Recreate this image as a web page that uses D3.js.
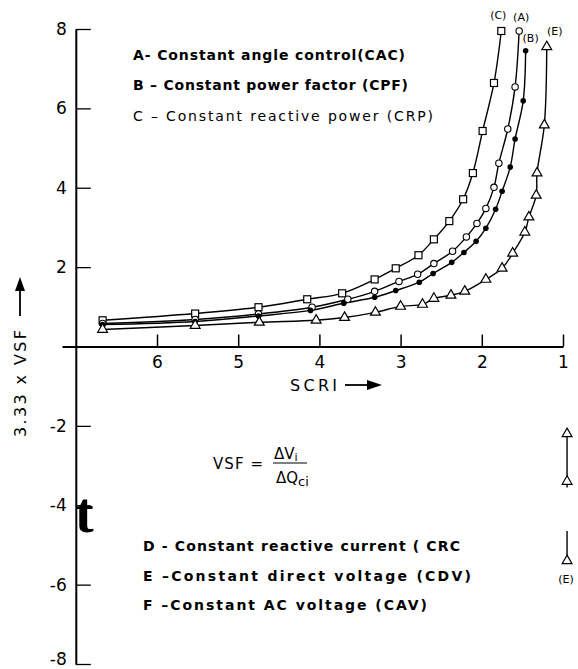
<!DOCTYPE html>
<html><head><meta charset="utf-8">
<script src="https://cdn.jsdelivr.net/npm/d3@7/dist/d3.min.js"></script>
<style>
html,body{margin:0;padding:0;background:#fff;}
svg{display:block;}
</style></head>
<body>
<script>
// ---- data ----
const xTicks = [6, 5, 4, 3, 2, 1];
const yTicks = [8, 6, 4, 2, -2, -4, -6, -8];

const scriC = [6.67, 5.53, 4.75, 4.15, 3.72, 3.32, 3.06, 2.78, 2.59, 2.40, 2.23, 2.11, 1.99, 1.85, 1.76];
const vsfC  = [0.66, 0.83, 0.99, 1.19, 1.34, 1.69, 1.97, 2.30, 2.70, 3.16, 3.71, 4.37, 5.43, 6.64, 7.95];

const scriA = [6.67, 5.53, 4.75, 4.09, 3.65, 3.32, 3.02, 2.79, 2.59, 2.36, 2.19, 2.06, 1.95, 1.85, 1.79, 1.68, 1.59, 1.54];
const vsfA  = [0.58, 0.68, 0.82, 0.99, 1.19, 1.39, 1.64, 1.82, 2.09, 2.40, 2.76, 3.10, 3.48, 4.01, 4.62, 5.48, 6.54, 7.95];

const scriB = [6.67, 5.53, 4.75, 4.11, 3.70, 3.32, 3.06, 2.77, 2.60, 2.37, 2.22, 2.07, 1.95, 1.83, 1.75, 1.65, 1.59, 1.49, 1.46];
const vsfB  = [0.55, 0.63, 0.77, 0.91, 1.09, 1.24, 1.41, 1.62, 1.84, 2.12, 2.37, 2.65, 2.98, 3.46, 3.91, 4.52, 5.23, 6.19, 7.45];

const scriE = [6.67, 5.53, 4.74, 4.04, 3.69, 3.31, 3.00, 2.73, 2.59, 2.38, 2.21, 1.95, 1.75, 1.62, 1.47, 1.42, 1.33, 1.32, 1.23, 1.20];
const vsfE  = [0.43, 0.53, 0.61, 0.66, 0.73, 0.86, 1.01, 1.06, 1.21, 1.29, 1.39, 1.69, 1.97, 2.35, 2.88, 3.26, 3.81, 4.37, 5.58, 7.55];

// negative branch of curve E near SCRI = 1
const scriEneg1 = [0.95, 0.95];
const vsfEneg1  = [-2.2, -3.55];
const scriEneg2 = [0.95, 0.95];
const vsfEneg2  = [-4.65, -5.4];
const markEneg  = [-2.2, -3.4, -5.4];

const legendTop = ["A-  Constant angle control(CAC)", "B \u2013 Constant power factor (CPF)", "C \u2013 Constant reactive power (CRP)"];
const legendBottom = ["D - Constant reactive current ( CRC", "E \u2013Constant direct voltage (CDV)", "F \u2013Constant AC voltage (CAV)"];

// ---- chart ----
const W = 578, H = 669;
const svg = d3.select("body").append("svg").attr("width", W).attr("height", H);
const font = "'DejaVu Sans', 'Liberation Sans', Arial, sans-serif";

const x = d3.scaleLinear().domain([7.17, 1]).range([62, 563]);
const y = d3.scaleLinear().domain([-8, 8]).range([664, 29]);

// x axis (ticks point up, labels below)
const gx = svg.append("g").attr("transform", `translate(0,${y(0)})`)
  .call(d3.axisBottom(x).tickValues(xTicks).tickFormat(d3.format("d"))
        .tickSizeInner(-12).tickSizeOuter(0).tickPadding(9));
gx.select(".domain").attr("stroke-width", 1.8);
gx.selectAll(".tick line").attr("stroke-width", 1.5);
gx.selectAll("text").attr("font-family", font).attr("font-size", 17).attr("fill", "#000");

// y axis (ticks point right, labels left)
const gy = svg.append("g").attr("transform", `translate(${x(7)},0)`)
  .call(d3.axisLeft(y).tickValues(yTicks).tickFormat(d => d < 0 ? "-" + Math.abs(d) : d)
        .tickSizeInner(-15).tickSizeOuter(0).tickPadding(9));
gy.select(".domain").attr("stroke-width", 2);
gy.selectAll(".tick line").attr("stroke-width", 1.3);
gy.selectAll("text").attr("font-family", font).attr("font-size", 17).attr("fill", "#000");
gy.selectAll(".tick text").filter(d => d === -8).attr("dy", "0.05em");

// curves
const line = d3.line().x(d => x(d[0])).y(d => y(d[1])).curve(d3.curveCatmullRom.alpha(0.5));
const series = [
  {s: scriC, v: vsfC, m: "square"},
  {s: scriA, v: vsfA, m: "open"},
  {s: scriB, v: vsfB, m: "filled"},
  {s: scriE, v: vsfE, m: "tri"}
];
series.forEach(sr => {
  const pts = sr.s.map((d, i) => [d, sr.v[i]]);
  svg.append("path").datum(pts).attr("d", line)
    .attr("fill", "none").attr("stroke", "#000").attr("stroke-width", 1.4);
});
[[scriEneg1, vsfEneg1], [scriEneg2, vsfEneg2]].forEach(([s, v]) => {
  svg.append("path").datum(s.map((d, i) => [d, v[i]])).attr("d", d3.line().x(d => x(d[0])).y(d => y(d[1])))
    .attr("fill", "none").attr("stroke", "#000").attr("stroke-width", 1.4);
});

// markers
const tri = d3.symbol().type(d3.symbolTriangle).size(42);
series.forEach(sr => {
  const pts = sr.s.map((d, i) => [d, sr.v[i]]);
  const g = svg.append("g");
  if (sr.m === "square") {
    g.selectAll("rect").data(pts).join("rect")
      .attr("x", d => x(d[0]) - 3.5).attr("y", d => y(d[1]) - 3.5)
      .attr("width", 7).attr("height", 7)
      .attr("fill", "#fff").attr("stroke", "#000").attr("stroke-width", 1.2);
  } else if (sr.m === "open") {
    g.selectAll("circle").data(pts).join("circle")
      .attr("cx", d => x(d[0])).attr("cy", d => y(d[1])).attr("r", 3.2)
      .attr("fill", "#fff").attr("stroke", "#000").attr("stroke-width", 1.1);
  } else if (sr.m === "filled") {
    g.selectAll("circle").data(pts).join("circle")
      .attr("cx", d => x(d[0])).attr("cy", d => y(d[1])).attr("r", 2.8)
      .attr("fill", "#000");
  } else {
    g.selectAll("path").data(pts).join("path")
      .attr("d", tri).attr("transform", d => `translate(${x(d[0])},${y(d[1])})`)
      .attr("fill", "#fff").attr("stroke", "#000").attr("stroke-width", 1.2);
  }
});
svg.append("g").selectAll("path").data(markEneg).join("path")
  .attr("d", tri).attr("transform", d => `translate(${x(0.95)},${y(d)})`)
  .attr("fill", "#fff").attr("stroke", "#000").attr("stroke-width", 1.2);

// curve labels
const lab = (t, px, py) => svg.append("text").text(t).attr("x", px).attr("y", py)
  .attr("text-anchor", "middle").attr("font-family", font).attr("font-size", 11).attr("fill", "#000");
lab("(C)", x(1.76) - 3, y(7.95) - 12);
lab("(A)", x(1.54) + 2, y(7.95) - 10);
lab("(B)", x(1.46) + 5, y(7.45) - 9);
lab("(E)", x(1.20) + 8, y(7.55) - 12);
lab("(E)", x(0.95) - 1, y(-5.4) + 22);

// legends
const legTopY = [60, 90, 121];
const legTopLen = [272, 275, 300];
legendTop.forEach((t, i) => {
  svg.append("text").text(t).attr("x", 133).attr("y", legTopY[i])
    .attr("font-family", font).attr("font-size", 14)
    .attr("font-weight", i === 2 ? "normal" : "bold")
    .attr("textLength", legTopLen[i]).attr("lengthAdjust", "spacing").attr("fill", "#000");
});
const legBotY = [551, 581, 610];
const legBotLen = [317, 328, 284];
legendBottom.forEach((t, i) => {
  svg.append("text").text(t).attr("x", 143).attr("y", legBotY[i])
    .attr("font-family", font).attr("font-size", 14).attr("font-weight", "bold")
    .attr("textLength", legBotLen[i]).attr("lengthAdjust", "spacing").attr("fill", "#000");
});

// formula
const f = svg.append("g").attr("font-family", font).attr("fill", "#000");
f.append("text").text("VSF =").attr("x", 213).attr("y", 469).attr("font-size", 15)
  .attr("textLength", 50).attr("lengthAdjust", "spacing");
const num = f.append("text").attr("x", 274).attr("y", 459).attr("font-size", 15);
num.append("tspan").text("\u0394V");
num.append("tspan").text("i").attr("font-size", 11).attr("dy", 2);
f.append("line").attr("x1", 273).attr("x2", 307).attr("y1", 463).attr("y2", 463).attr("stroke", "#000").attr("stroke-width", 1.2);
const den = f.append("text").attr("x", 276).attr("y", 483).attr("font-size", 15);
den.append("tspan").text("\u0394Q");
den.append("tspan").text("ci").attr("font-size", 13).attr("dy", 3);

// axis titles
svg.append("text").text("3.33 x VSF").attr("transform", "translate(26,437) rotate(-90)")
  .attr("font-family", font).attr("font-size", 16).attr("fill", "#000")
  .attr("textLength", 107).attr("lengthAdjust", "spacing");
svg.append("line").attr("x1", 20).attr("x2", 20).attr("y1", 316).attr("y2", 288).attr("stroke", "#000").attr("stroke-width", 1.8);
svg.append("path").attr("d", "M20,277 L15,291 L25,291 Z").attr("fill", "#000");

svg.append("text").text("SCRI").attr("x", 290).attr("y", 391)
  .attr("font-family", font).attr("font-size", 16).attr("fill", "#000")
  .attr("textLength", 47).attr("lengthAdjust", "spacing");
svg.append("line").attr("x1", 345).attr("x2", 370).attr("y1", 385).attr("y2", 385).attr("stroke", "#000").attr("stroke-width", 1.8);
svg.append("path").attr("d", "M382,385 L367,380 L367,390 Z").attr("fill", "#000");

// stray glyph from the scan near the y axis
svg.append("text").text("t").attr("x", 75).attr("y", 532)
  .attr("font-family", "'Liberation Serif', 'DejaVu Serif', serif").attr("font-weight", "bold")
  .attr("font-size", 56).attr("fill", "#000");
</script>
</body></html>
